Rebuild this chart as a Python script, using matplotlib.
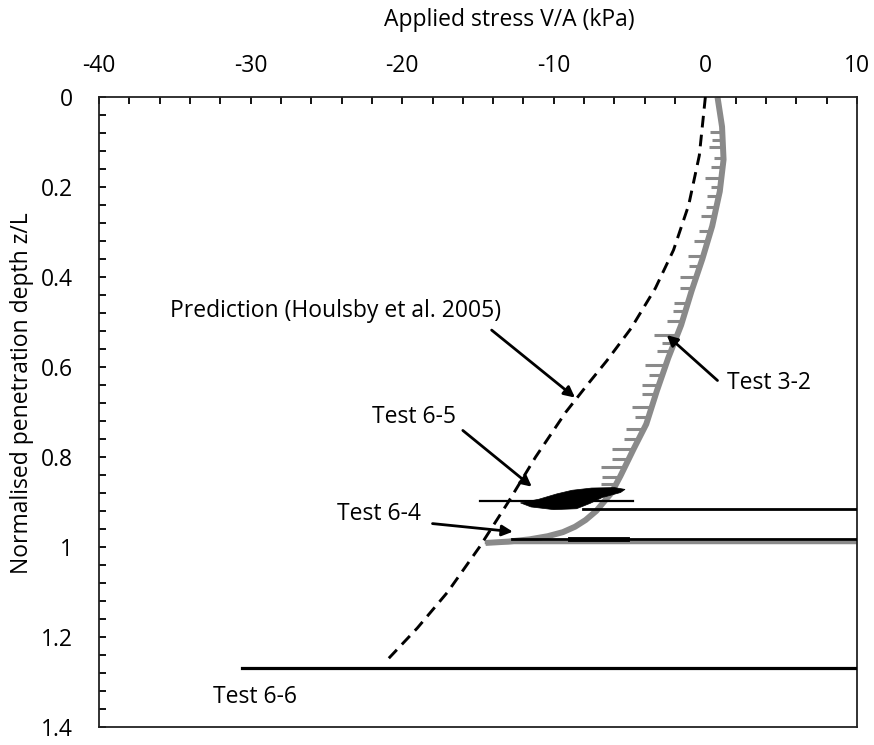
import numpy as np
import matplotlib.pyplot as plt

plt.rcParams['font.family'] = ['Open Sans', 'DejaVu Sans']
plt.rcParams['axes.unicode_minus'] = False

# Test 3-2 (grey), stress in kPa vs normalised depth
depth_32 = [0.0, 0.066, 0.139, 0.21, 0.287, 0.36, 0.43, 0.507, 0.58, 0.653,
            0.727, 0.78, 0.842, 0.88, 0.90, 0.92, 0.94, 0.955, 0.967, 0.976,
            0.983, 0.988, 0.991]
stress_32 = [0.8, 1.1, 1.2, 0.95, 0.45, -0.2, -0.9, -1.6, -2.45, -3.2,
             -3.9, -4.7, -5.6, -6.2, -6.7, -7.2, -7.9, -8.6, -9.4, -10.4,
             -11.6, -13.0, -14.5]
# unloading of test 3-2 (hidden under test 6-4)
return_x = [-14.5, 10.0]
return_z = [0.988, 0.988]

# small unloading spikes on test 3-2
spike_depth = [0.077, 0.095, 0.112, 0.135, 0.155, 0.179, 0.200, 0.221, 0.245, 0.265,
               0.298, 0.32, 0.353, 0.375, 0.399, 0.425, 0.458, 0.476, 0.498, 0.529,
               0.547, 0.564, 0.595, 0.617, 0.641, 0.661, 0.69, 0.712, 0.738, 0.76,
               0.783, 0.805, 0.822, 0.844, 0.86]
spike_len = [0.8, 0.7, 0.9, 0.6, 0.8, 1.1, 0.6, 0.8, 0.7, 0.9,
             0.8, 0.9, 1.0, 0.7, 1.1, 0.8, 0.9, 0.8, 1.0, 1.5,
             0.8, 0.9, 1.4, 0.9, 1.1, 0.9, 1.3, 0.9, 1.2, 1.0,
             1.4, 1.1, 1.6, 1.2, 1.0]

# Prediction (Houlsby et al. 2005)
depth_pred = [0.0, 0.13, 0.24, 0.34, 0.425, 0.514, 0.586, 0.64, 0.70,
              0.80, 0.90, 1.00, 1.10, 1.18, 1.255]
stress_pred = [0.0, -0.4, -1.1, -2.1, -3.3, -4.9, -6.5, -7.8, -9.2,
               -11.2, -13.0, -14.9, -17.0, -19.0, -21.1]

# Test 6-5 cyclic blob and lines
blob_x = [-12.2, -11.0, -9.8, -8.8, -7.5, -6.0, -5.3, -5.6, -6.8, -7.6, -8.5, -10.0, -11.5, -12.2]
blob_z = [0.902, 0.894, 0.882, 0.874, 0.869, 0.868, 0.872, 0.879, 0.890, 0.903, 0.915, 0.917, 0.911, 0.902]
t65_thin_x = [-14.9, -4.8]
t65_thin_z = [0.897, 0.897]
t65_long_x = [-8.1, 10.0]
t65_long_z = [0.915, 0.915]

# Test 6-4
t64_x = [-12.75, 10.0]
t64_z = [0.983, 0.983]
t64_thick_x = [-8.9, -5.2]

# Test 6-6
t66_x = [-30.6, 10.0]
t66_z = [1.268, 1.268]

fs = 16.5

fig = plt.figure(figsize=(8.74, 7.45), dpi=100)
ax = fig.add_axes([0.1133, 1 - 727 / 745, 0.8672, 630 / 745])

grey = '#8a8a8a'
ax.plot(stress_32, depth_32, color=grey, lw=4.3, solid_capstyle='butt', zorder=2)
ax.plot(return_x, return_z, color=grey, lw=2.5, zorder=2)
curve_at = np.interp(spike_depth, depth_32, stress_32)
ax.hlines(spike_depth, curve_at - np.array(spike_len), curve_at, color=grey, lw=2.2, zorder=2)

ax.plot(stress_pred, depth_pred, color='black', lw=2.1, dashes=(4, 2.5), zorder=3)

ax.fill(blob_x, blob_z, color='black', lw=0.5, zorder=4)
ax.plot(t65_thin_x, t65_thin_z, color='black', lw=1.6, zorder=4)
ax.plot(t65_long_x, t65_long_z, color='black', lw=2.0, zorder=4)

ax.plot(t64_x, t64_z, color='black', lw=2.0, zorder=4)
ax.plot(t64_thick_x, t64_z, color='black', lw=3.5, zorder=4)

ax.plot(t66_x, t66_z, color='black', lw=2.3, zorder=4)

ax.set_xlim(-40, 10)
ax.set_ylim(1.4, 0)
ax.xaxis.tick_top()
ax.set_xticks(np.arange(-40, 11, 10))
ax.set_xticks(np.arange(-40, 11, 2), minor=True)
ax.set_yticks([0, 0.2, 0.4, 0.6, 0.8, 1, 1.2, 1.4])
ax.set_yticklabels(['0', '0.2', '0.4', '0.6', '0.8', '1', '1.2', '1.4'])
ax.set_yticks(np.arange(0, 1.41, 0.04), minor=True)
ax.tick_params(axis='both', which='both', direction='in', length=5, width=1.3, labelsize=fs)
ax.tick_params(axis='x', which='both', top=True, bottom=False, pad=14)
ax.tick_params(axis='y', which='both', left=True, right=False, pad=19)
for sp in ax.spines.values():
    sp.set_linewidth(1.3)
    sp.set_color('#222222')

ax.set_ylabel('Normalised penetration depth z/L', fontsize=fs)
ax.yaxis.set_label_coords(-0.086, 0.53)
fig.text(509 / 874, 1 - 20 / 745, 'Applied stress V/A (kPa)', fontsize=fs,
         ha='center', va='center')

arrow = dict(arrowstyle='-|>', lw=2, color='black', mutation_scale=16, shrinkA=0, shrinkB=0)
ax.annotate('', xy=(-8.6, 0.668), xytext=(-14.1, 0.518), arrowprops=arrow)
ax.text(-35.3, 0.476, 'Prediction (Houlsby et al. 2005)', fontsize=fs, ha='left', va='center')
ax.annotate('', xy=(-2.55, 0.529), xytext=(0.8, 0.63), arrowprops=arrow)
ax.text(1.4, 0.635, 'Test 3-2', fontsize=fs, ha='left', va='center')
ax.annotate('', xy=(-11.45, 0.866), xytext=(-16.0, 0.741), arrowprops=arrow)
ax.text(-22.0, 0.712, 'Test 6-5', fontsize=fs, ha='left', va='center')
ax.annotate('', xy=(-12.7, 0.966), xytext=(-18.0, 0.948), arrowprops=arrow)
ax.text(-24.3, 0.926, 'Test 6-4', fontsize=fs, ha='left', va='center')
ax.text(-32.5, 1.334, 'Test 6-6', fontsize=fs, ha='left', va='center')

fig.savefig('out.png', dpi=100)
